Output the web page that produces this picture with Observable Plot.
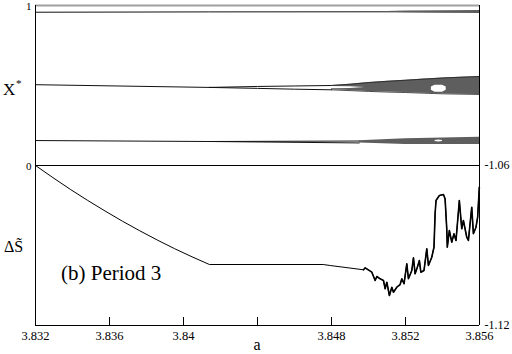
<!DOCTYPE html>
<html><head><meta charset="utf-8">
<script src="https://cdn.jsdelivr.net/npm/d3@7"></script>
<script src="https://cdn.jsdelivr.net/npm/@observablehq/plot@0.6"></script>
<style>
body{margin:0;background:#fff;}
#wrap{position:relative;width:512px;height:354px;}
#top,#bot,#over{position:absolute;left:0;}
#top{top:0}
#bot{top:165px}
#over{top:0;pointer-events:none}
svg text{font-family:"Liberation Serif","Times New Roman",serif;}
</style></head><body>
<div id="wrap"><div id="top"></div><div id="bot"></div>
<svg id="over" width="512" height="354" fill="#000">
  <text x="3" y="95" font-size="17">X</text>
  <text x="16" y="87" font-size="11">*</text>
  <text x="4" y="252" font-size="16">ΔS̃</text>
  <text x="61" y="280" font-size="21">(b) Period 3</text>
  <text x="257" y="350" font-size="16" text-anchor="middle">a</text>
</svg>
</div>
<script>
// x ticks (the 3.844 position carries the axis title "a" instead of a number)
const xTicks = [3.832, 3.836, 3.84, 3.844, 3.848, 3.852, 3.856];
const xTickLabels = ["3.832", "3.836", "3.84", "", "3.848", "3.852", "3.856"];
const yTopTicks = [0, 1];
const yBotTicks = [-1.12, -1.06];

// Bottom panel: ΔS̃ curve
const curveA = [3.83200,3.83294,3.83388,3.83482,3.83576,3.83670,3.83764,3.83858,3.83952,3.84046,3.84140,
  3.84755,3.84793,3.84973,3.84982,3.85018,3.85036,3.85045,3.85063,3.85081,3.85090,3.85099,3.85113,3.85126,3.85135,
  3.85153,3.85171,3.85180,3.85192,3.85207,3.85216,3.85234,3.85243,3.85252,3.85264,3.85275,3.85283,3.85300,3.85315,
  3.85324,3.85342,3.85354,3.85360,3.85365,3.85383,3.85405,3.85414,3.85423,3.85426,3.85437,3.85450,3.85462,3.85473,
  3.85491,3.85504,3.85513,3.85531,3.85540,3.85558,3.85567,3.85581,3.85590,3.85599];
const curveS = [-1.06000,-1.06454,-1.06893,-1.07309,-1.07706,-1.08089,-1.08449,-1.08794,-1.09120,-1.09424,-1.09713,
  -1.09713,-1.09750,-1.09911,-1.09836,-1.10001,-1.10313,-1.10163,-1.10249,-1.10313,-1.10624,-1.10376,-1.10875,-1.10564,-1.10751,
  -1.10564,-1.10463,-1.10249,-1.10436,-1.09686,-1.10249,-1.09938,-1.09461,-1.10061,-1.09814,-1.09563,-1.10001,-1.09938,-1.09124,
  -1.09750,-1.09439,-1.09064,-1.07811,-1.07313,-1.07125,-1.07088,-1.07249,-1.08374,-1.09064,-1.08438,-1.08876,-1.08561,-1.08813,
  -1.07313,-1.08374,-1.08063,-1.08689,-1.08813,-1.07564,-1.08561,-1.08314,-1.07939,-1.06814];

// Top panel: bifurcation branches (X*)
const topLineA = [3.832, 3.8414, 3.856];
const topLineX = [0.958, 0.960, 0.961];
const topBandA = [3.8505, 3.852, 3.854, 3.856];
const topBandHi = [0.961, 0.965, 0.967, 0.968];
const topBandLo = [0.959, 0.955, 0.952, 0.950];

const midSingleA = [3.832, 3.8414];
const midSingleX = [0.505, 0.488];
const midPairA = [3.8414, 3.844, 3.846, 3.848];
const midUpX = [0.488, 0.494, 0.497, 0.500];
const midLoX = [0.488, 0.482, 0.477, 0.473];
const midBandA = [3.848, 3.849, 3.850, 3.851, 3.852, 3.853, 3.8535, 3.854, 3.855, 3.856];
const midBandHi = [0.500, 0.508, 0.518, 0.526, 0.533, 0.540, 0.543, 0.547, 0.552, 0.556];
const midBandLo = [0.473, 0.468, 0.463, 0.459, 0.456, 0.452, 0.450, 0.448, 0.446, 0.444];
const midSlitA = [3.848, 3.849, 3.8498];
const midSlitLo = [0.479, 0.482, 0.487];
const midSlitHi = [0.494, 0.492, 0.488];
const midGapA = [3.8534, 3.8536, 3.8540, 3.8542];
const midGapLo = [0.470, 0.458, 0.458, 0.470];
const midGapHi = [0.490, 0.502, 0.502, 0.490];

const botSingleA = [3.832, 3.8414];
const botSingleX = [0.156, 0.150];
const botPairA = [3.8414, 3.8495];
const botUpX = [0.150, 0.153];
const botLoX = [0.150, 0.141];
const botBandA = [3.8495, 3.852, 3.854, 3.856];
const botBandHi = [0.155, 0.167, 0.172, 0.176];
const botBandLo = [0.140, 0.132, 0.131, 0.131];
const botGapA = [3.8536, 3.8538, 3.8540];
const botGapLo = [0.150, 0.147, 0.150];
const botGapHi = [0.156, 0.160, 0.156];

const zipLine = (A, X) => A.map((a, i) => ({a, x: X[i]}));
const zipBand = (A, L, H) => A.map((a, i) => ({a, lo: L[i], hi: H[i]}));
const curve = curveA.map((a, i) => ({a, s: curveS[i]}));

const font = {fontFamily: "'Liberation Serif', 'Times New Roman', serif", fontSize: "11px", background: "transparent", overflow: "visible"};
const bandFill = "#5e5e5e";
const ln = (A, X) => Plot.line(zipLine(A, X), {x: "a", y: "x", stroke: "#111", strokeWidth: 1});
const band = (A, L, H, fill) => Plot.areaY(zipBand(A, L, H), {x: "a", y1: "lo", y2: "hi", fill, curve: "linear"});
const edges = (A, L, H) => [Plot.line(zipLine(A, L), {x: "a", y: "x", stroke: "#222", strokeWidth: 0.8}),
                            Plot.line(zipLine(A, H), {x: "a", y: "x", stroke: "#222", strokeWidth: 0.8})];

const topPlot = Plot.plot({
  width: 512, height: 166,
  marginLeft: 35, marginRight: 33, marginTop: 5, marginBottom: 1,
  style: font,
  x: {domain: [3.832, 3.856], axis: null},
  y: {domain: [0, 1], axis: null},
  marks: [
    ln(topLineA, topLineX),
    band(topBandA, topBandLo, topBandHi, bandFill),
    ln(midSingleA, midSingleX),
    ln(midPairA, midUpX),
    ln(midPairA, midLoX),
    band(midBandA, midBandLo, midBandHi, bandFill),
    edges(midBandA, midBandLo, midBandHi),
    band(midSlitA, midSlitLo, midSlitHi, "white"),
    band(midGapA, midGapLo, midGapHi, "white"),
    ln(botSingleA, botSingleX),
    ln(botPairA, botUpX),
    ln(botPairA, botLoX),
    band(botBandA, botBandLo, botBandHi, bandFill),
    band(botGapA, botGapLo, botGapHi, "white"),
    Plot.ruleY([1], {stroke: "#a0a0a0", strokeWidth: 2}),
    Plot.ruleY([0], {stroke: "#000"}),
    Plot.ruleX([3.832, 3.856], {stroke: "#000"}),
    Plot.axisY(yTopTicks, {tickSize: 0, tickPadding: 4, tickFormat: d => String(d), fontSize: 11, label: null, dy: 1})
  ]
});
document.getElementById("top").appendChild(topPlot);

const botPlot = Plot.plot({
  width: 512, height: 189,
  marginLeft: 35, marginRight: 33, marginTop: 0, marginBottom: 29,
  style: font,
  x: {domain: [3.832, 3.856]},
  y: {domain: [-1.12, -1.06]},
  marks: [
    Plot.line(curve, {x: "a", y: "s", stroke: "#000", strokeWidth: 1}),
    Plot.line(curve.filter(d => d.a >= 3.8497), {x: "a", y: "s", stroke: "#000", strokeWidth: 1.6}),
    Plot.ruleX([3.832, 3.856], {stroke: "#000"}),
    Plot.ruleY([-1.12, -1.06], {stroke: "#000"}),
    Plot.ruleX(xTicks, {x: d => d, y1: -1.12, y2: -1.117, stroke: "#000"}),
    Plot.axisX(xTicks, {tickSize: 0, tickPadding: 6, fontSize: 12.5, label: null,
      tickFormat: d => xTickLabels[xTicks.indexOf(d)]}),
    Plot.axisY(yBotTicks, {anchor: "right", tickSize: 0, tickPadding: 5, fontSize: 12, label: null,
      tickFormat: d => d.toFixed(2)})
  ]
});
document.getElementById("bot").appendChild(botPlot);
</script>
</body></html>
